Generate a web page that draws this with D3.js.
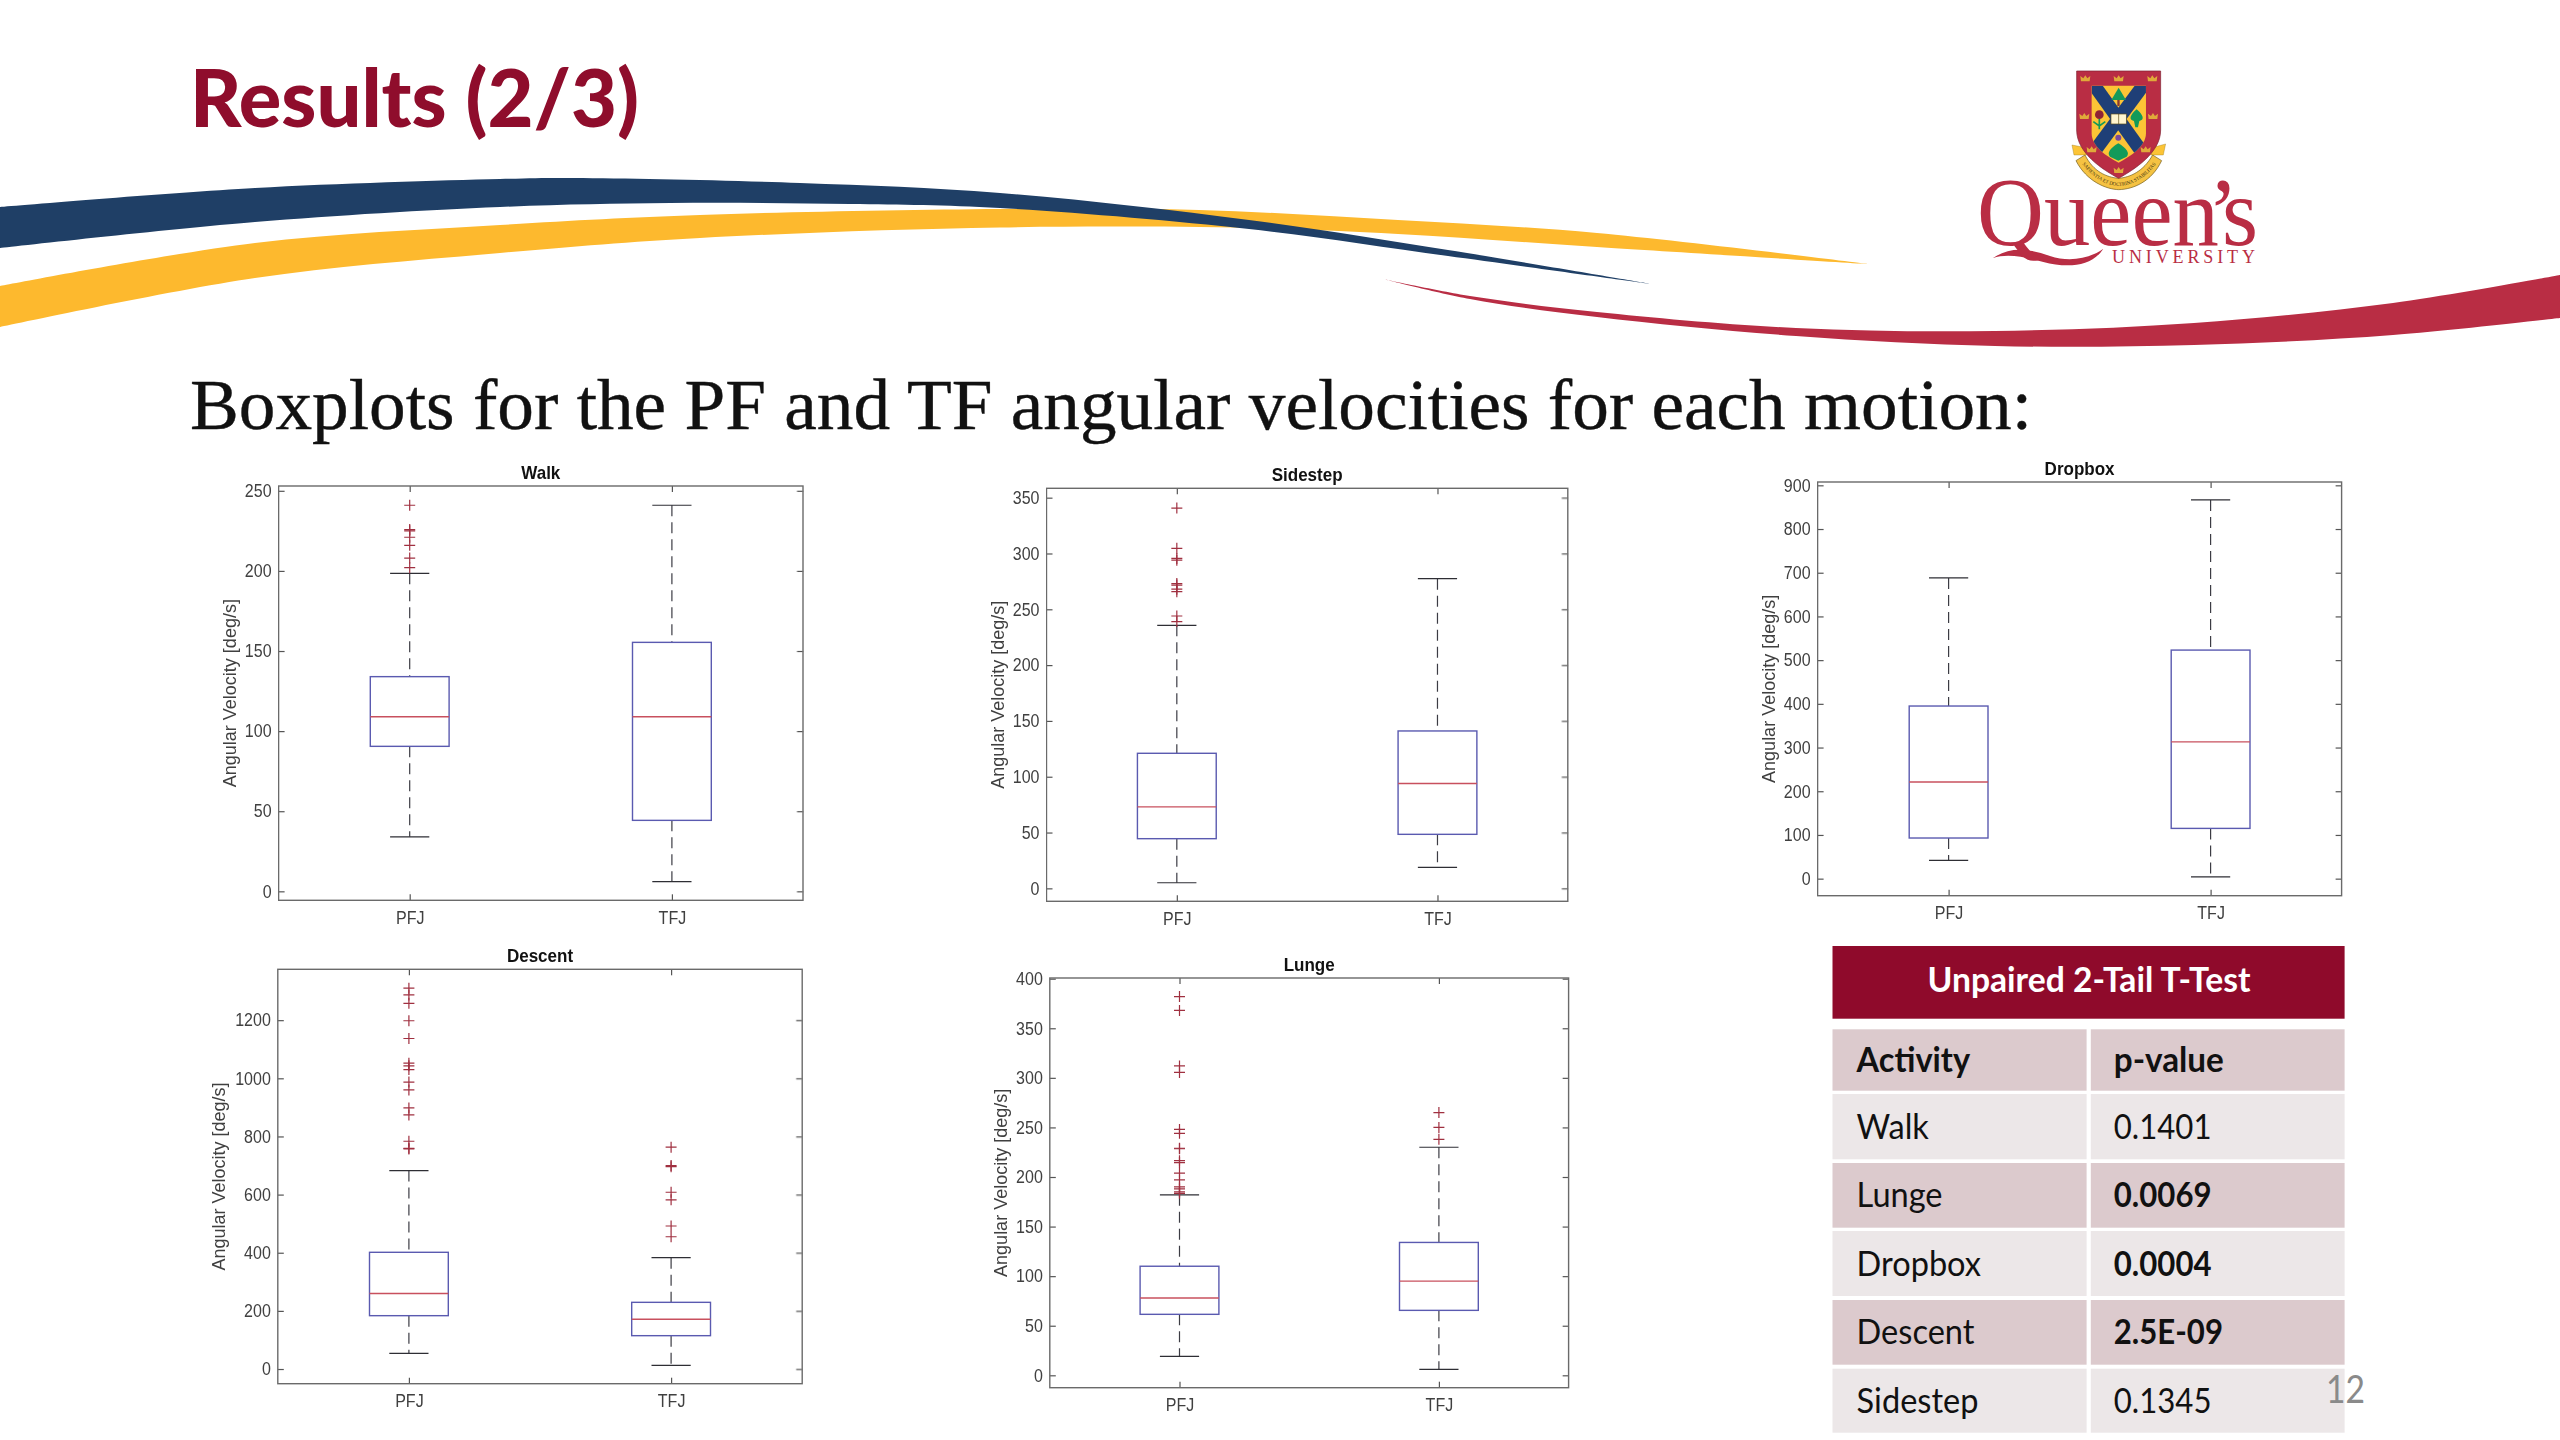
<!DOCTYPE html>
<html><head><meta charset="utf-8">
<script src="https://cdn.jsdelivr.net/npm/d3@7/dist/d3.min.js"></script>
<style>html,body{margin:0;padding:0;background:#fff}svg{display:block}</style>
</head><body><svg id="s" width="2560" height="1440"></svg>
<script>
// ---------- chart data (box = [lower whisker, q1, median, q3, upper whisker]) ----------
const categories = ["PFJ", "TFJ"];
const panelTitles = ["Walk", "Sidestep", "Dropbox", "Descent", "Lunge"];
const yAxisLabel = "Angular Velocity [deg/s]";

const walkBoxes = [[34, 90.5, 109, 134, 198.5], [6, 44.3, 109, 155.4, 241]];
const walkOutliers = [[241, 225.8, 225, 221, 216, 208, 202], []];
const walkTicks = [0, 50, 100, 150, 200, 250];

const sidestepBoxes = [[5, 44.5, 73, 121, 235.6], [18.8, 48.4, 94, 141, 277.4]];
const sidestepOutliers = [[340.7, 304.6, 295.6, 294, 273, 271.7, 268, 265.8, 244, 239], []];
const sidestepTicks = [0, 50, 100, 150, 200, 250, 300, 350];

const dropboxBoxes = [[42, 93, 221, 395, 688], [4, 115, 313, 523, 866.5]];
const dropboxOutliers = [[], []];
const dropboxTicks = [0, 100, 200, 300, 400, 500, 600, 700, 800, 900];

const descentBoxes = [[54, 183.5, 260, 401.5, 682.6], [12.6, 114.7, 171, 229.4, 383]];
const descentOutliers = [[1310, 1287, 1258, 1198, 1137, 1052, 1043, 1030, 987, 960, 898, 874, 783.5, 759, 757],
                         [763, 700, 696, 608, 582, 492, 455]];
const descentTicks = [0, 200, 400, 600, 800, 1000, 1200];

const lungeBoxes = [[19, 61.5, 78, 110, 182], [6, 65.5, 95, 134, 230]];
const lungeOutliers = [[382, 368, 312, 305.5, 248, 244, 229, 228.5, 216.5, 214.5, 204, 197, 190, 188, 185, 183.5],
                       [265, 250, 238]];
const lungeTicks = [0, 50, 100, 150, 200, 250, 300, 350, 400];

const tableTitle = "Unpaired 2-Tail T-Test";
const tableHeader = ["Activity", "p-value"];
const activities = ["Walk", "Lunge", "Dropbox", "Descent", "Sidestep"];
const pValues = ["0.1401", "0.0069", "0.0004", "2.5E-09", "0.1345"];
const significant = [false, true, true, true, false];

// ---------- layout ----------
const panelData = [
  {box: walkBoxes, out: walkOutliers, ticks: walkTicks, lo: -5.6, hi: 253, x: 278.6, y: 486, w: 524.4, h: 414.3, lab: 48.5},
  {box: sidestepBoxes, out: sidestepOutliers, ticks: sidestepTicks, lo: -11.6, hi: 358.4, x: 1046.5, y: 488.3, w: 521.3, h: 413, lab: 48.5},
  {box: dropboxBoxes, out: dropboxOutliers, ticks: dropboxTicks, lo: -39, hi: 907.6, x: 1817.6, y: 482, w: 524, h: 413.7, lab: 49},
  {box: descentBoxes, out: descentOutliers, ticks: descentTicks, lo: -50.5, hi: 1375, x: 277.8, y: 969.3, w: 524.4, h: 414.4, lab: 58.4},
  {box: lungeBoxes, out: lungeOutliers, ticks: lungeTicks, lo: -12.5, hi: 400.7, x: 1049.8, y: 978, w: 518.8, h: 409.7, lab: 49}
];
const SANS = "'Liberation Sans', Arial, sans-serif";
const CAL = "Lato, 'Open Sans', sans-serif";
const SERIF = "'Liberation Serif', serif";
const svg = d3.select("#s");
const fit = (sel, w, adj) => sel.attr("textLength", w).attr("lengthAdjust", adj || "spacingAndGlyphs");
const squeeze = (sel, k) => { sel.each(function () { d3.select(this).attr("textLength", this.getComputedTextLength() * k).attr("lengthAdjust", "spacingAndGlyphs"); }); };

// ---------- ribbons ----------
const ribbon = d3.line().x(d => d[0]).y(d => d[1]).curve(d3.curveCatmullRom.alpha(0.5));
const ribbonPath = (top, bottom) => ribbon(top) + ribbon(bottom.slice().reverse()).replace(/^M/, "L") + "Z";
const goldTop = [[0,286],[255,243],[500,225],[700,215],[1000,209],[1199,210],[1398,220],[1597,233],[1868,264]];
const goldBot = [[0,327],[255,278],[500,253],[700,238],[1000,227.5],[1249,228],[1398,234],[1597,247],[1868,264]];
const navyTop = [[0,207],[255,188],[500,179],[574,178],[800,183],[1000,193],[1249,220],[1448,250],[1652,284]];
const navyBot = [[0,248],[255,222],[500,207],[670,203],[850,204],[1000,208],[1249,229],[1448,256],[1652,284]];
const redTop = [[1383,279],[1470,296],[1597,312],[1796,328],[1995,331],[2194,323],[2393,303],[2560,275]];
const redBot = [[1383,279],[1470,299],[1597,317],[1796,336],[1995,346],[2194,345],[2393,335],[2560,318]];
svg.append("path").attr("d", ribbonPath(goldTop, goldBot)).attr("fill", "#fdb92e");
svg.append("path").attr("d", ribbonPath(navyTop, navyBot)).attr("fill", "#1f3f66");
svg.append("path").attr("d", ribbonPath(redTop, redBot)).attr("fill", "#b92d44");

// ---------- headings ----------
svg.append("text").text("Results (2/3)").attr("x", 190).attr("y", 127)
  .attr("font-family", CAL).attr("font-weight", 900).attr("font-size", 80).attr("fill", "#8f0d2c").call(fit, 449);
svg.append("text").text("Boxplots for the PF and TF angular velocities for each motion:").attr("x", 190).attr("y", 429)
  .attr("font-family", SERIF).attr("font-size", 72).attr("fill", "#111").attr("stroke", "#111").attr("stroke-width", 0.4).call(fit, 1842);

// ---------- logo ----------
const logo = svg.append("g").attr("transform", "translate(1900,40) scale(0.3333)");
const defs = svg.append("defs");
defs.append("clipPath").attr("id", "fieldClip").append("path").attr("d", "M575,137H738V280C738,320 690,350 656,368C620,350 575,320 575,280Z");
defs.append("path").attr("id", "mottoArc").attr("d", "M540,362C575,415 620,436 656,438C695,436 740,415 775,362");
logo.append("path").attr("d", "M516,315L552,322L560,345L522,345Z").attr("fill", "#fcc436").attr("stroke", "#8a6d1a");
logo.append("path").attr("d", "M797,312L760,322L752,345L790,345Z").attr("fill", "#fcc436").attr("stroke", "#8a6d1a");
logo.append("path").attr("d", "M528,362C560,425 620,448 656,449C700,448 755,425 785,362L758,345C730,395 690,412 656,415C620,412 580,395 555,345Z").attr("fill", "#f5c242").attr("stroke", "#6e5a1d").attr("stroke-width", 2);
logo.append("text").attr("font-family", SERIF).attr("font-size", 15).attr("fill", "#3d3212")
  .append("textPath").attr("href", "#mottoArc").attr("startOffset", "4%").text("SAPIENTIA ET DOCTRINA STABILITAS");
logo.append("path").attr("d", "M530,93H782V270C782,340 700,390 656,415C610,390 530,340 530,270Z").attr("fill", "#b92d44").attr("stroke", "#7d2030").attr("stroke-width", 2);
logo.append("path").attr("d", "M575,137H738V280C738,320 690,350 656,368C620,350 575,320 575,280Z").attr("fill", "#fcc436");
const field = logo.append("g").attr("clip-path", "url(#fieldClip)");
field.append("line").attr("x1", 575).attr("y1", 125).attr("x2", 725).attr("y2", 335).attr("stroke", "#1f3f77").attr("stroke-width", 40);
field.append("line").attr("x1", 738).attr("y1", 125).attr("x2", 590).attr("y2", 325).attr("stroke", "#1f3f77").attr("stroke-width", 40);
logo.append("path").attr("d", "M656,143L678,180H634Z").attr("fill", "#129a5a");
logo.append("rect").attr("x", 652).attr("y", 180).attr("width", 7).attr("height", 18).attr("fill", "#8a3a30");
logo.append("circle").attr("cx", 598).attr("cy", 224).attr("r", 13).attr("fill", "#8f2336");
logo.append("path").attr("d", "M598,237V268M580,245L598,258L616,245").attr("stroke", "#129a5a").attr("stroke-width", 5).attr("fill", "none");
logo.append("path").attr("d", "M710,208C730,225 735,240 718,243L714,262H706L702,243C685,240 690,225 710,208Z").attr("fill", "#129a5a");
logo.append("rect").attr("x", 633).attr("y", 222).attr("width", 46).attr("height", 30).attr("fill", "#fff5d0").attr("stroke", "#5a4a1a").attr("stroke-width", 2);
logo.append("line").attr("x1", 656).attr("y1", 222).attr("x2", 656).attr("y2", 252).attr("stroke", "#5a4a1a").attr("stroke-width", 2);
logo.append("path").attr("d", "M655,310C680,325 690,340 680,350L655,362L630,350C620,340 630,325 655,310Z").attr("fill", "#129a5a");
logo.append("circle").attr("cx", 655).attr("cy", 293).attr("r", 9).attr("fill", "#7a4a9a");
const crownSpots = [[556,115],[656,115],[757,115],[553,228],[759,228],[575,328],[737,328],[656,390]];
logo.selectAll("path.crown").data(crownSpots).join("path").attr("class", "crown")
  .attr("d", d => `M${d[0]-13},${d[1]+9}L${d[0]-15},${d[1]-7}L${d[0]-6},${d[1]}L${d[0]},${d[1]-9}L${d[0]+6},${d[1]}L${d[0]+15},${d[1]-7}L${d[0]+13},${d[1]+9}Z`)
  .attr("fill", "#e0a93a");
svg.append("text").text("Queen\u2019s").attr("x", 1977).attr("y", 245).attr("dx", "0 0 0 0 0 -12 -12")
  .attr("font-family", SERIF).attr("font-size", 98).attr("fill", "#b92d44").call(fit, 281);
logo.append("path").attr("d", "M278,655C330,618 385,625 450,648C510,668 570,655 610,626C575,682 500,684 430,666C370,650 320,640 278,655Z").attr("fill", "#b92d44");
svg.append("text").text("UNIVERSITY").attr("x", 2112).attr("y", 263).attr("font-family", SERIF).attr("font-size", 18).attr("fill", "#b92d44").call(fit, 143, "spacing");

// ---------- box plots ----------
panelData.forEach((p, i) => {
  const g = svg.append("g").attr("transform", `translate(${p.x},${p.y})`).style("filter", "blur(0.45px)");
  const x = d3.scalePoint().domain(categories).range([0, p.w]).padding(0.5);
  const y = d3.scaleLinear().domain([p.lo, p.hi]).range([p.h, 0]);
  const styleAxis = a => {
    a.select(".domain").remove();
    a.selectAll("line").attr("stroke", "#555").attr("stroke-width", 1.2);
    a.selectAll("text").attr("fill", "#404040").attr("font-family", SANS).attr("font-size", 18);
    a.selectAll("text").filter(function () { return this.textContent; }).call(squeeze, 0.89);
  };
  g.append("g").call(d3.axisLeft(y).tickValues(p.ticks).tickFormat(d3.format("d")).tickSizeInner(-6).tickSizeOuter(0).tickPadding(7)).call(styleAxis);
  g.append("g").attr("transform", `translate(${p.w},0)`).call(d3.axisRight(y).tickValues(p.ticks).tickFormat("").tickSizeInner(-6).tickSizeOuter(0)).call(styleAxis);
  g.append("g").attr("transform", `translate(0,${p.h})`).call(d3.axisBottom(x).tickSizeInner(-6).tickSizeOuter(0).tickPadding(10.5)).call(styleAxis);
  g.append("g").call(d3.axisTop(x).tickFormat("").tickSizeInner(-6).tickSizeOuter(0)).call(styleAxis);
  g.append("rect").attr("width", p.w).attr("height", p.h).attr("fill", "none").attr("stroke", "#6a6a6a").attr("stroke-width", 1.4);
  g.append("text").text(panelTitles[i]).attr("x", p.w / 2).attr("y", -7.5).attr("text-anchor", "middle")
    .attr("font-family", SANS).attr("font-weight", "bold").attr("font-size", 18.5).attr("fill", "#111").call(squeeze, 0.92);
  g.append("text").text(yAxisLabel).attr("transform", `translate(${-p.lab},${p.h / 2}) rotate(-90)`).attr("text-anchor", "middle")
    .attr("dominant-baseline", "central").attr("font-family", SANS).attr("font-size", 18).attr("fill", "#404040");
  categories.forEach((c, k) => {
    const [lw, q1, med, q3, uw] = p.box[k], cx = x(c), bh = 39.4, cap = 19.6;
    const b = g.append("g");
    [[uw, q3], [q1, lw]].forEach(s => b.append("line").attr("x1", cx).attr("x2", cx).attr("y1", y(s[0])).attr("y2", y(s[1]))
      .attr("stroke", "#3c3c44").attr("stroke-width", 1.2).attr("stroke-dasharray", "11 6"));
    [uw, lw].forEach(v => b.append("line").attr("x1", cx - cap).attr("x2", cx + cap).attr("y1", y(v)).attr("y2", y(v))
      .attr("stroke", "#2e2e34").attr("stroke-width", 1.2));
    b.append("rect").attr("x", cx - bh).attr("width", bh * 2).attr("y", y(q3)).attr("height", y(q1) - y(q3))
      .attr("fill", "none").attr("stroke", "#5a5ab0").attr("stroke-width", 1.4);
    b.append("line").attr("x1", cx - bh).attr("x2", cx + bh).attr("y1", y(med)).attr("y2", y(med))
      .attr("stroke", "#c8505e").attr("stroke-width", 1.4);
    b.selectAll("path.o").data(p.out[k]).join("path").attr("class", "o")
      .attr("d", v => `M${cx - 5.5},${y(v)}H${cx + 5.5}M${cx},${y(v) - 5.5}V${y(v) + 5.5}`)
      .attr("stroke", "#a03040").attr("stroke-width", 1.2).attr("fill", "none");
  });
});

// ---------- table ----------
const tx0 = 1832.5, tx1 = 2086.6, tx2 = 2090.8, tx3 = 2344.6;
svg.append("rect").attr("x", tx0).attr("y", 946).attr("width", tx3 - tx0).attr("height", 72.7).attr("fill", "#8f0a2b");
svg.append("text").text(tableTitle).attr("x", 2089).attr("y", 992).attr("text-anchor", "middle")
  .attr("font-family", CAL).attr("font-weight", "bold").attr("font-size", 35).attr("fill", "#fff").call(fit, 323);
const rowBands = [[1029.3,1090.7],[1094,1159.3],[1163,1227.7],[1231,1296],[1300,1364.7],[1368.7,1432.7]];
const tableRows = [tableHeader].concat(activities.map((a, i) => [a, pValues[i]]));
tableRows.forEach((r, i) => {
  const [y0, y1] = rowBands[i], fill = i % 2 === 0 ? "#dccacd" : "#ece7e8", base = (y0 + y1) / 2 + 12;
  svg.append("rect").attr("x", tx0).attr("y", y0).attr("width", tx1 - tx0).attr("height", y1 - y0).attr("fill", fill);
  svg.append("rect").attr("x", tx2).attr("y", y0).attr("width", tx3 - tx2).attr("height", y1 - y0).attr("fill", fill);
  svg.append("text").text(r[0]).attr("x", 1856.6).attr("y", base).attr("font-family", CAL).attr("font-size", 35)
    .attr("font-weight", i === 0 ? "bold" : "normal").attr("fill", "#111").call(squeeze, 0.93);
  svg.append("text").text(r[1]).attr("x", 2113.8).attr("y", base).attr("font-family", CAL).attr("font-size", 35)
    .attr("font-weight", i === 0 || significant[i - 1] ? "bold" : "normal").attr("fill", "#111").call(squeeze, i === 0 ? 0.95 : 0.89);
});
svg.append("text").text("12").attr("x", 2326).attr("y", 1403).attr("font-family", CAL).attr("font-size", 38).attr("fill", "#8a8a8a").call(fit, 39);
</script></body></html>
